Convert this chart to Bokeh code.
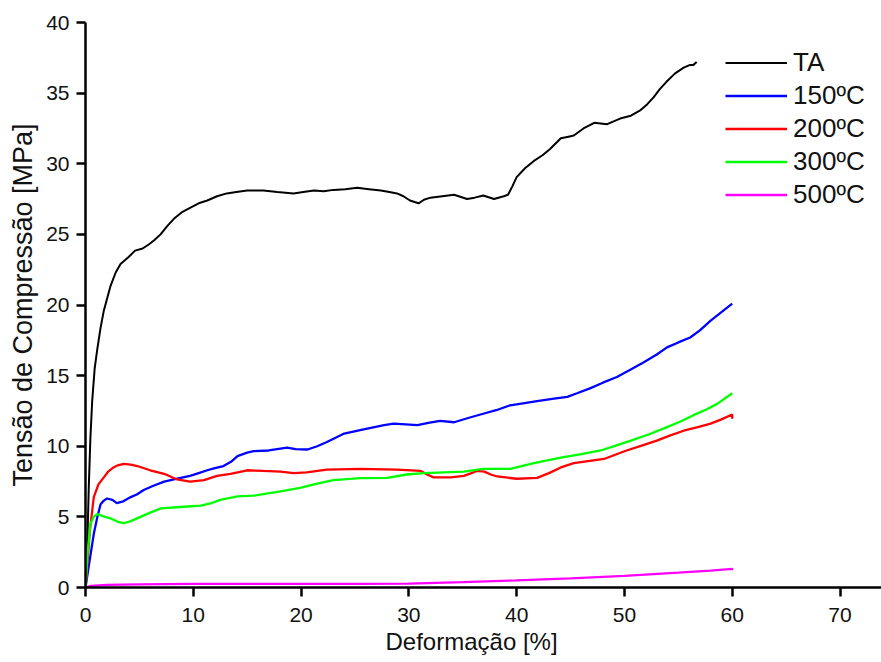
from bokeh.plotting import figure
from bokeh.models import Range1d, Legend, LegendItem, FixedTicker, Title
from bokeh.embed import file_html
from bokeh.resources import INLINE

# ---- data ----
ta_x = [0, 0.1, 0.2, 0.3, 0.45, 0.62, 0.85, 1.08, 1.4, 1.7, 2.3, 2.8, 3.25, 4.0, 4.6, 5.3, 5.9,
        6.4, 6.96, 7.6, 8.2, 9.0, 9.74, 10.5, 11.3, 12.2, 13.1, 14.0, 15.0, 16.5, 17.8, 19.3,
        20.2, 21.2, 22.1, 23.0, 24.1, 25.2, 26.3, 27.4, 28.2, 28.9, 29.5, 30.1,
        30.9, 31.4, 32.0, 33.1, 34.2, 35.4, 36.1, 36.9, 37.9, 38.8, 39.2, 39.6, 40.0, 40.8,
        41.6, 42.4, 43.1, 44.1, 44.7, 45.3, 46.2, 47.2, 48.4,
        49.6, 50.6, 51.5, 52.1, 52.7, 53.3, 53.9, 54.7, 55.5, 56.1, 56.4, 56.7]
ta_y = [0, 1.5, 4.0, 7.0, 10.5, 13.2, 15.5, 16.8, 18.4, 19.6, 21.3, 22.3, 22.9, 23.4, 23.85, 24.0, 24.3,
        24.6, 25.0, 25.6, 26.1, 26.6, 26.9, 27.2, 27.4, 27.7, 27.9, 28.0, 28.1, 28.1, 28.0, 27.9,
        28.0, 28.1, 28.05, 28.15, 28.2, 28.3, 28.2, 28.1, 28.0, 27.9, 27.7, 27.4,
        27.2, 27.45, 27.6, 27.7, 27.8, 27.5, 27.6, 27.75, 27.5, 27.7, 27.8, 28.4, 29.05, 29.7,
        30.2, 30.6, 31.05, 31.8, 31.9, 32.0, 32.5, 32.9, 32.8,
        33.2, 33.4, 33.8, 34.2, 34.7, 35.3, 35.8, 36.4, 36.8, 37.0, 37.0, 37.2]

b150_x = [0, 0.3, 0.77, 1.1, 1.4, 1.7, 2.0, 2.5, 2.9, 3.5, 4.2, 4.8, 5.4, 6.3, 7.3, 8.5, 9.7, 10.5,
          11.3, 12.0, 12.8, 13.5, 14.1, 15.0, 15.6, 17.0, 18.7, 19.5, 20.6, 21.5, 22.4, 23.2,
          24.0, 25.8, 27.7, 28.6, 30.8, 31.8, 32.9, 34.2, 35.5, 36.9, 38.1, 39.4, 41.9, 43.3,
          44.7, 45.6, 46.8, 48.0, 49.3, 50.5, 51.8, 53.0, 53.95, 55.0, 56.1, 57.0, 58.0, 59.0, 60.0]
b150_y = [0, 1.5, 3.8, 5.0, 5.9, 6.15, 6.3, 6.2, 5.97, 6.1, 6.4, 6.6, 6.9, 7.2, 7.5, 7.7, 7.9, 8.1,
          8.3, 8.45, 8.6, 8.9, 9.3, 9.55, 9.65, 9.7, 9.9, 9.8, 9.77, 10.0, 10.3, 10.6,
          10.9, 11.2, 11.5, 11.6, 11.5, 11.65, 11.8, 11.7, 12.0, 12.3, 12.55, 12.9, 13.2, 13.35,
          13.5, 13.75, 14.1, 14.5, 14.9, 15.4, 15.95, 16.5, 17.0, 17.35, 17.7, 18.2, 18.9, 19.5, 20.1]

r200_x = [0, 0.15, 0.4, 0.77, 1.2, 1.7, 2.1, 2.6, 3.0, 3.55, 4.2, 4.8, 6.0, 7.3, 8.5, 9.7, 11.0,
          12.2, 13.45, 15.0, 16.5, 18.1, 19.3, 20.5, 22.4, 25.5, 28.9, 31.1, 31.7, 32.3, 33.9,
          35.1, 35.8, 36.3, 37.0, 37.6, 38.2, 40.0, 41.9, 43.0, 44.1, 45.3, 48.1, 50.2, 51.6,
          53.0, 54.2, 55.5, 56.8, 58.0, 59.0, 60.0, 60.0]
r200_y = [0, 1.4, 4.0, 6.4, 7.3, 7.8, 8.2, 8.5, 8.65, 8.75, 8.7, 8.6, 8.3, 8.05, 7.65, 7.5, 7.6,
          7.9, 8.05, 8.3, 8.25, 8.2, 8.1, 8.15, 8.35, 8.4, 8.35, 8.25, 8.0, 7.8, 7.8,
          7.9, 8.1, 8.25, 8.2, 8.0, 7.86, 7.7, 7.76, 8.1, 8.5, 8.8, 9.1, 9.7, 10.05,
          10.4, 10.75, 11.1, 11.35, 11.6, 11.9, 12.25, 11.95]

g300_x = [0, 0.2, 0.46, 0.75, 1.08, 1.6, 2.3, 3.0, 3.55, 4.2, 5.1, 6.0, 7.0, 8.8, 10.7, 11.6,
          12.5, 14.1, 15.6, 18.1, 19.9, 21.5, 23.0, 25.5, 28.0, 29.8, 31.4, 35.1, 36.9, 39.4,
          41.6, 44.1, 46.0, 47.8, 49.2, 50.6, 52.3, 53.95, 55.2, 56.4, 57.6, 58.6, 60.0]
g300_y = [0, 2.5, 4.5, 5.0, 5.2, 5.05, 4.9, 4.65, 4.55, 4.7, 5.0, 5.3, 5.6, 5.7, 5.8, 5.95,
          6.2, 6.45, 6.5, 6.8, 7.05, 7.35, 7.6, 7.75, 7.76, 8.0, 8.1, 8.2, 8.4, 8.4,
          8.8, 9.2, 9.45, 9.7, 10.05, 10.4, 10.85, 11.35, 11.75, 12.2, 12.6, 13.0, 13.75]

m500_x = [0, 0.5, 2, 5, 10, 15, 20, 25, 30, 35, 40, 45, 50, 55, 58, 60, 60]
m500_y = [0, 0.12, 0.18, 0.22, 0.25, 0.26, 0.26, 0.26, 0.28, 0.38, 0.5, 0.65, 0.82, 1.05, 1.2, 1.32, 1.22]

series_labels = ["TA", "150ºC", "200ºC", "300ºC", "500ºC"]
series_colors = ["#000000", "#0000ff", "#ff0000", "#00ff00", "#ff00ff"]
x_ticks = [0, 10, 20, 30, 40, 50, 60, 70]
y_ticks = [0, 5, 10, 15, 20, 25, 30, 35, 40]
x_title = "Deformação [%]"
y_title = "Tensão de Compressão [MPa]"

FONT = "Liberation Sans"
TXT = "#111111"

p = figure(width=881, height=662, output_backend="svg", toolbar_location=None,
           x_range=Range1d(0, 73.85), y_range=Range1d(0, 40),
           min_border_left=85, min_border_right=0, min_border_top=22, min_border_bottom=75)
p.outline_line_color = None
p.grid.visible = False
p.background_fill_color = "white"
p.border_fill_color = "white"

for ax, ticks in ((p.xaxis, x_ticks), (p.yaxis, y_ticks)):
    ax.ticker = FixedTicker(ticks=ticks)
    ax.axis_line_width = 2.5
    ax.axis_line_color = "black"
    ax.major_tick_line_width = 2.5
    ax.major_tick_line_color = "black"
    ax.major_tick_out = 9
    ax.major_tick_in = 0
    ax.minor_tick_line_color = None
    ax.major_label_text_font = FONT
    ax.major_label_text_font_size = "21px"
    ax.major_label_text_color = TXT
    ax.axis_label_text_font = FONT
    ax.axis_label_text_font_style = "normal"
    ax.axis_label_text_color = TXT

p.yaxis.axis_label = y_title
p.yaxis.axis_label_text_font_size = "27px"
p.xaxis.major_label_standoff = 11
p.yaxis.major_label_standoff = 7
p.yaxis.axis_label_standoff = 5

xt = Title(text=x_title, align="left", offset=300, text_font=FONT, text_font_size="24px",
           text_font_style="normal", text_color=TXT, standoff=2)
p.add_layout(xt, "below")

data = [(ta_x, ta_y), (b150_x, b150_y), (r200_x, r200_y), (g300_x, g300_y), (m500_x, m500_y)]
items = []
for (xs, ys), lab, col in zip(data, series_labels, series_colors):
    r = p.line(xs, ys, line_color=col, line_width=2.3 if col != "#000000" else 2.0)
    items.append(LegendItem(label=lab, renderers=[r]))

legend = Legend(items=items, location=(640, 376), border_line_color=None,
                background_fill_alpha=0, padding=0, margin=0, spacing=0,
                glyph_width=62, glyph_height=33, label_height=33, label_standoff=6,
                label_text_font=FONT, label_text_font_size="26px", label_text_color=TXT)
p.add_layout(legend)

open("out.html", "w").write(file_html(p, INLINE))
